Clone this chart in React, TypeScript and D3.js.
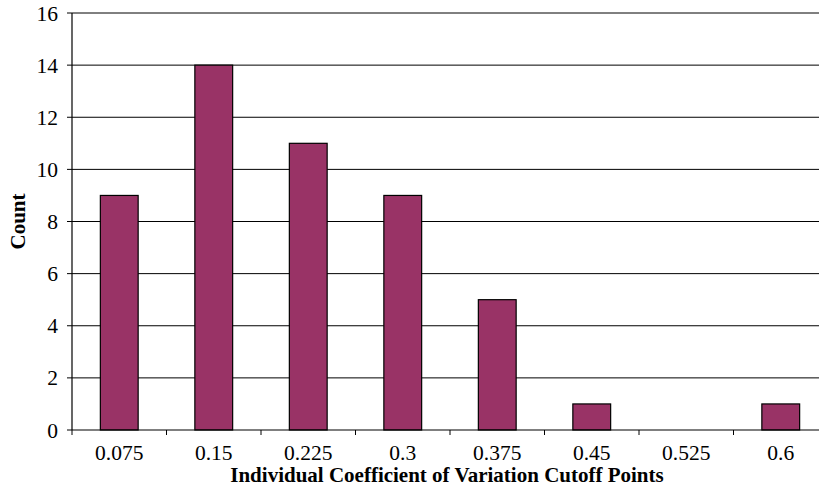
import React from "react";
import * as d3 from "d3";

const categories = ["0.075", "0.15", "0.225", "0.3", "0.375", "0.45", "0.525", "0.6"];
const counts = [9, 14, 11, 9, 5, 1, 0, 1];
const yTicks = [0, 2, 4, 6, 8, 10, 12, 14, 16];

const W = 819;
const H = 488;
const left = 72;
const right = 828;
const top = 13;
const bottom = 430;
const font = "Liberation Serif, Times New Roman, serif";

export default function App() {
  const x = d3.scaleBand<string>().domain(categories).range([left, right]).paddingInner(0).paddingOuter(0);
  const y = d3.scaleLinear().domain([0, 16]).range([bottom, top]);
  const bw = x.bandwidth() * 0.4;
  const ts: React.CSSProperties = { fontFamily: font, fontSize: "21.5px" };
  const tb: React.CSSProperties = { fontFamily: font, fontSize: "21px", fontWeight: "bold" };
  return (
    <svg width={W} height={H} style={{ position: "absolute", left: 0, top: 0, background: "#fff" }}>
      {yTicks.map((t) => (
        <g key={t}>
          {t > 0 && <line x1={left} x2={right} y1={y(t)} y2={y(t)} stroke="#000" strokeWidth={1} />}
          <line x1={left - 5} x2={left} y1={y(t)} y2={y(t)} stroke="#000" strokeWidth={1} />
          <text x={58} y={y(t)} dy="0.35em" textAnchor="end" style={ts}>{t}</text>
        </g>
      ))}
      {categories.map((c, i) => {
        const cx = (x(c) as number) + x.bandwidth() / 2;
        return (
          <g key={c}>
            {counts[i] > 0 && (
              <rect x={cx - bw / 2} y={y(counts[i])} width={bw} height={y(0) - y(counts[i])} fill="#993366" stroke="#000" strokeWidth={1.2} />
            )}
            <line x1={x(c) as number} x2={x(c) as number} y1={bottom} y2={bottom + 5} stroke="#000" />
            <text x={cx} y={460} textAnchor="middle" style={ts}>{c}</text>
          </g>
        );
      })}
      <line x1={left} x2={left} y1={top} y2={bottom} stroke="#000" strokeWidth={1.2} />
      <line x1={left} x2={right} y1={bottom} y2={bottom} stroke="#000" strokeWidth={1.2} />
      <text x={447} y={482} textAnchor="middle" style={tb}>Individual Coefficient of Variation Cutoff Points</text>
      <text transform={`translate(25,${(top + bottom) / 2}) rotate(-90)`} textAnchor="middle" style={tb}>Count</text>
    </svg>
  );
}
